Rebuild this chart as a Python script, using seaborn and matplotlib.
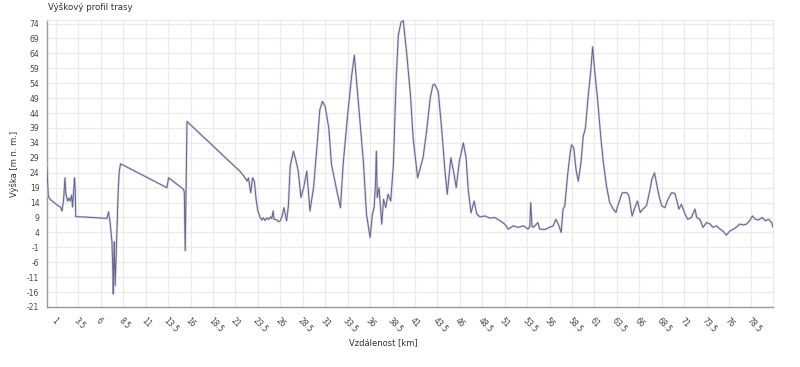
import numpy as np
import pandas as pd
import matplotlib
matplotlib.use("Agg")
import matplotlib.pyplot as plt
import seaborn as sns

title = "Výškový profil trasy"
xlabel = "Vzdálenost [km]"
ylabel = "Výška [m n. m.]"

km = [0.0, 0.05, 0.15, 0.37, 0.8, 1.2, 1.5, 1.67, 1.85, 2.0, 2.1, 2.3, 2.45, 2.6, 2.75, 2.85, 2.95, 3.07, 3.15, 3.2,
      4.5, 5.5, 6.68, 6.86, 7.05, 7.24, 7.33, 7.38, 7.45, 7.5, 7.6, 7.72, 7.83, 7.94, 8.05, 8.2,
      13.36, 13.55, 15.2, 15.3, 15.35, 15.4, 15.5, 15.6,
      17.0, 18.5, 20.0, 21.5, 21.9, 22.3, 22.45, 22.7, 22.9, 23.1, 23.3, 23.5, 23.75, 23.95, 24.1, 24.3, 24.5, 24.7,
      24.9, 25.05, 25.2, 25.3, 25.6, 25.8, 26.0, 26.2, 26.4, 26.55, 26.7, 26.9, 27.1, 27.46, 27.8, 28.0, 28.3, 28.6,
      28.95, 29.3, 29.7, 30.07, 30.4, 30.7, 31.0, 31.4, 31.7, 32.3, 32.7, 33.0, 33.5, 33.96, 34.25, 34.5, 34.9, 35.25,
      35.6, 36.0, 36.26, 36.45, 36.6, 36.7, 36.8, 37.0, 37.3, 37.5, 37.75, 38.0, 38.3, 38.6, 38.9, 39.15, 39.45, 39.7,
      40.1, 40.5, 40.8, 41.3, 41.6, 41.9, 42.3, 42.7, 43.0, 43.2, 43.6, 44.0, 44.35, 44.6, 45.0, 45.3, 45.6, 45.95,
      46.4, 46.7, 46.95, 47.25, 47.6, 47.9, 48.25, 48.8, 49.35, 49.9, 50.5, 51.0, 51.4, 51.95, 52.5, 53.1, 53.6, 53.8,
      53.9, 54.05, 54.2, 54.7, 54.9, 55.5, 56.0, 56.4, 56.7, 56.97, 57.3, 57.5, 57.7, 58.0, 58.3, 58.46, 58.7, 58.95,
      59.2, 59.5, 59.75, 60.0, 60.3, 60.6, 60.8, 61.06, 61.36, 61.7, 62.0, 62.35, 62.7, 63.1, 63.4, 63.6, 64.1, 64.6,
      64.85, 65.2, 65.5, 65.8, 66.1, 66.4, 66.8, 67.2, 67.4, 67.7, 67.9, 68.2, 68.5, 68.85, 69.2, 69.6, 69.96, 70.2,
      70.4, 70.7, 71.1, 71.4, 71.8, 72.2, 72.4, 72.75, 73.1, 73.5, 73.9, 74.2, 74.6, 75.0, 75.3, 75.7, 76.1, 76.5,
      76.8, 77.2, 77.6, 77.95, 78.3, 78.6, 78.95, 79.3, 79.7, 80.05, 80.4, 80.75, 80.9]

elev = [27.0, 22.0, 16.0, 15.0, 14.0, 13.0, 12.5, 11.2, 15.0, 22.3, 17.0, 14.5, 15.5, 14.5, 16.5, 12.5, 17.0, 22.3, 18.0, 9.3,
        9.1, 8.9, 8.7, 10.9, 6.8, 0.8, -8.0, -16.6, -5.0, 0.8, -13.8, -2.6, 8.4, 18.4, 24.5, 27.0,
        19.0, 22.3, 18.5, 17.5, 8.0, -2.1, 20.0, 41.2,
        37.2, 33.0, 28.7, 24.5, 23.0, 21.2, 22.3, 17.3, 22.3, 21.2, 15.1, 11.2, 9.0, 8.2, 8.9, 8.0, 8.9, 8.3,
        9.2, 8.6, 11.2, 8.4, 8.2, 7.6, 7.9, 9.5, 12.3, 10.0, 7.9, 12.9, 26.2, 31.2, 27.3, 24.5, 15.7, 19.0,
        24.5, 11.2, 19.0, 32.3, 45.1, 47.9, 46.2, 39.0, 26.8, 17.9, 12.3, 26.8, 43.4, 56.8, 63.4, 54.5, 40.1, 27.9,
        10.1, 2.3, 10.1, 12.3, 20.0, 31.2, 15.7, 19.0, 6.8, 15.1, 12.3, 16.8, 14.5, 26.8, 54.5, 70.1, 74.5, 75.0,
        63.4, 50.1, 35.7, 22.3, 25.7, 29.0, 37.9, 49.0, 53.4, 53.7, 51.2, 37.9, 24.5, 16.8, 29.0, 24.5, 19.0, 27.9,
        34.0, 29.0, 17.9, 10.6, 14.5, 10.1, 9.2, 9.5, 8.8, 9.0, 7.9, 6.8, 5.1, 6.2, 5.7, 6.2, 5.1, 6.0,
        14.0, 6.0, 5.7, 7.3, 5.1, 5.0, 5.7, 6.2, 8.4, 6.8, 4.0, 11.8, 12.9, 22.9, 30.7, 33.4, 32.3, 25.1,
        21.2, 27.3, 36.2, 39.0, 49.5, 58.4, 66.2, 57.3, 48.4, 36.2, 27.3, 19.5, 14.0, 11.8, 10.7, 12.9, 17.3, 17.3,
        16.2, 9.5, 12.3, 14.5, 10.7, 11.8, 12.9, 18.4, 21.8, 24.0, 20.7, 16.2, 12.9, 12.3, 15.1, 17.3, 17.1, 14.5,
        11.8, 13.4, 10.1, 8.4, 9.0, 11.8, 9.0, 8.4, 5.7, 7.3, 6.8, 5.7, 6.2, 5.1, 4.5, 3.1, 4.5, 5.1,
        5.7, 6.8, 6.5, 6.8, 7.9, 9.5, 8.4, 8.2, 9.0, 7.9, 8.4, 7.3, 5.7]

xticks = [1, 3.5, 6, 8.5, 11, 13.5, 16, 18.5, 21, 23.5, 26, 28.5, 31, 33.5, 36, 38.5, 41, 43.5, 46, 48.5,
          51, 53.5, 56, 58.5, 61, 63.5, 66, 68.5, 71, 73.5, 76, 78.5]
yticks = [-21, -16, -11, -6, -1, 4, 9, 14, 19, 24, 29, 34, 39, 44, 49, 54, 59, 64, 69, 74]

df = pd.DataFrame({"km": km, "elev": elev})

sns.set_style("white")
plt.rcParams["font.family"] = ["DejaVu Sans"]

fig = plt.figure(figsize=(8, 3.67), dpi=100)
ax = fig.add_axes([47 / 800, 1 - 307 / 367, 726 / 800, 287 / 367])

sns.lineplot(data=df, x="km", y="elev", ax=ax, color="#d2d2e2", linewidth=1.6,
             estimator=None, sort=False, zorder=3)
sns.lineplot(data=df, x="km", y="elev", ax=ax, color="#63638e", linewidth=0.7,
             estimator=None, sort=False, zorder=4)

ax.set_xlim(0, 80.9)
ax.set_ylim(-21, 75.2)
ax.set_xticks(xticks)
ax.set_xticklabels([f"{t:g}" for t in xticks], rotation=-45, ha="left", va="top",
                   rotation_mode="anchor", fontsize=5.5, color="#444444")
ax.set_yticks(yticks)
ax.set_yticklabels([str(t) for t in yticks], fontsize=5.5, color="#444444")
ax.grid(True, color="#ebebeb", linewidth=0.9)
ax.set_axisbelow(True)
ax.tick_params(axis="both", direction="inout", length=5, width=0.8, color="#999999", pad=3)
ax.tick_params(axis="x", pad=4)

for s in ["left", "bottom"]:
    ax.spines[s].set_color("#999999")
    ax.spines[s].set_linewidth(1.0)
for s in ["top", "right"]:
    ax.spines[s].set_color("#ebebeb")
    ax.spines[s].set_linewidth(0.9)

ax.set_xlabel("")
ax.set_ylabel(ylabel, fontsize=6, color="#333333", labelpad=6)
fig.text(383 / 800, 1 - 343 / 367, xlabel, fontsize=6, color="#333333", ha="center", va="center")
fig.text(48 / 800, 1 - 7 / 367, title, fontsize=6.2, color="#333333", ha="left", va="center")

fig.savefig("out.png", dpi=100)
